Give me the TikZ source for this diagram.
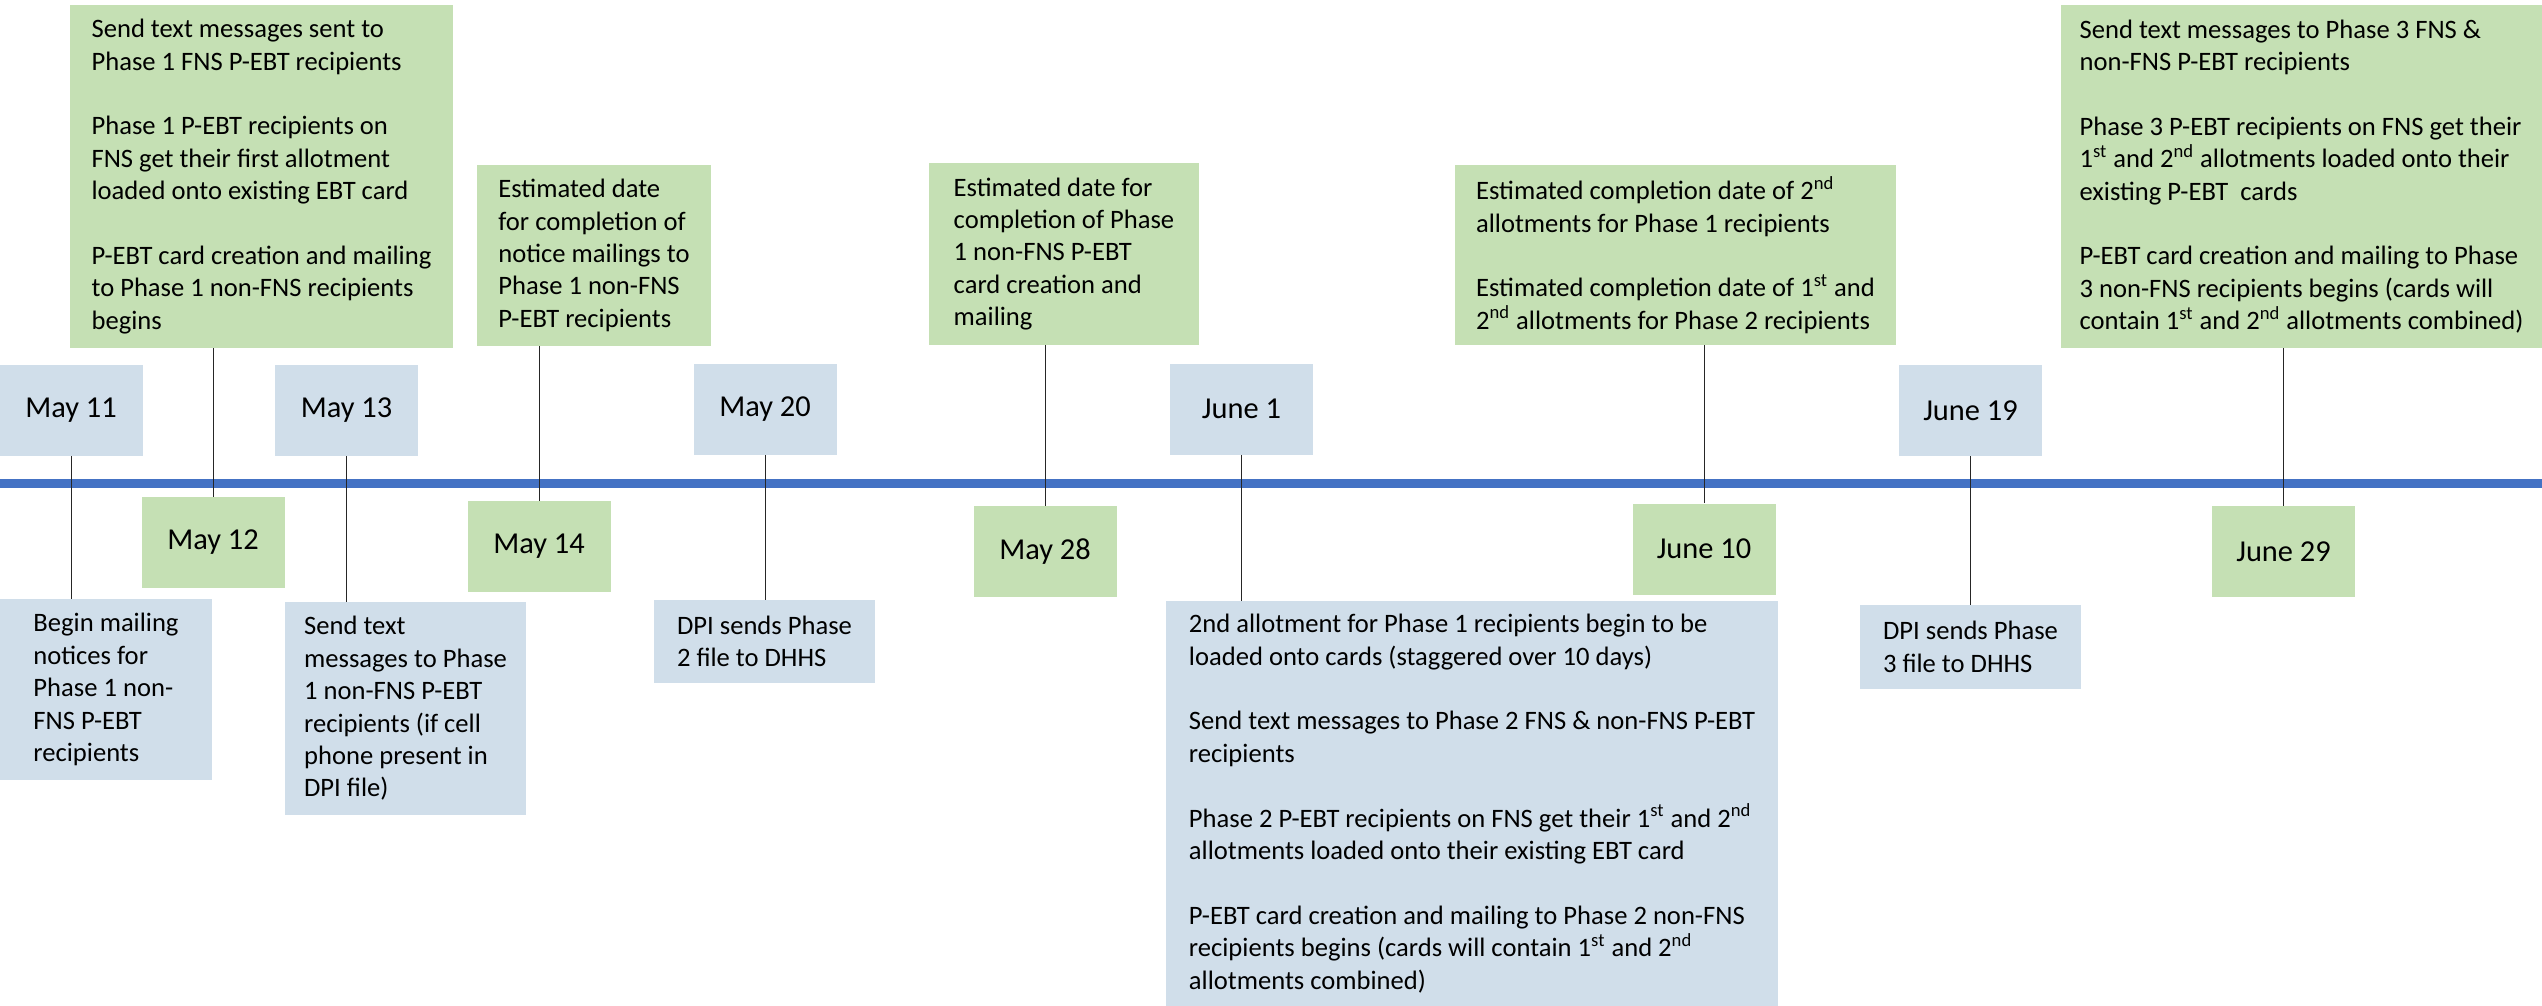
\documentclass[tikz,border=0pt]{standalone}
\usepackage{fontspec}
\setmainfont{Carlito}
\usepackage{xcolor}
\usepackage{tikz}
\usetikzlibrary{positioning}
\definecolor{boxgreen}{HTML}{C5E0B4}
\definecolor{boxblue}{HTML}{D0DEEA}
\definecolor{axisblue}{HTML}{4472C4}
\tikzset{
  event box/.style={
    fill=#1,
    inner sep=0pt,
    align=left,
    font=\fontsize{13.3}{16.2}\selectfont,
  },
  box size/.style 2 args={
    minimum width={#1*0.5pt},
    minimum height={#2*0.5pt},
  },
  date box/.style={
    fill=#1,
    inner sep=0pt,
    minimum width=71.5pt,
    minimum height=45.5pt,
    font=\fontsize{15.2}{18}\selectfont,
  },
  stem/.style={
    draw=black!85,
    line width=0.5pt,
  }
}
\newcommand{\gap}{\\[16.2pt]}
\newcommand{\st}{\textsuperscript{st}}
\newcommand{\nd}{\textsuperscript{nd}}

\begin{document}
\begin{tikzpicture}[x=0.5pt, y=-0.5pt]
    \useasboundingbox (0,0) rectangle (2542,1006);
    \coordinate (axis west) at (0,483.5);
    \coordinate (axis east) at (2542,483.5);
    \draw [axisblue, line width=4.5pt] (axis west) -- (axis east);

    \node [event box=boxgreen, box size={383}{343}] (may12txt) at (261.5,176.5)
      {Send text messages sent to\\Phase 1 FNS P-EBT recipients\gap
       Phase 1 P-EBT recipients on\\FNS get their first allotment\\loaded onto existing EBT card\gap
       P-EBT card creation and mailing\\to Phase 1 non-FNS recipients\\begins};
    \node [event box=boxgreen, box size={234}{181}] (may14txt) at (594,255.5)
      {Estimated date\\for completion of\\notice mailings to\\Phase 1 non-FNS\\P-EBT recipients};
    \node [event box=boxgreen, box size={270}{182}] (may28txt) at (1064,254)
      {Estimated date for\\completion of Phase\\1 non-FNS P-EBT\\card creation and\\mailing};
    \node [event box=boxgreen, box size={441}{180}] (jun10txt) at (1675.5,255)
      {Estimated completion date of 2\nd\\allotments for Phase 1 recipients\gap
       Estimated completion date of 1\st{} and\\2\nd{} allotments for Phase 2 recipients};
    \node [event box=boxgreen, box size={481}{343}] (jun29txt) at (2301.5,176.5)
      {Send text messages to Phase 3 FNS \&\\non-FNS P-EBT recipients\gap
       Phase 3 P-EBT recipients on FNS get their\\1\st{} and 2\nd{} allotments loaded onto their\\existing P-EBT\ \ cards\gap
       P-EBT card creation and mailing to Phase\\3 non-FNS recipients begins (cards will\\contain 1\st{} and 2\nd{} allotments combined)};

    \node [event box=boxblue, box size={212}{181}] (may11txt) at (106,689.5)
      {Begin mailing\\notices for\\Phase 1 non-\\FNS P-EBT\\recipients};
    \node [event box=boxblue, box size={241}{213}] (may13txt) at (405.5,708.5)
      {Send text\\messages to Phase\\1 non-FNS P-EBT\\recipients (if cell\\phone present in\\DPI file)};
    \node [event box=boxblue, box size={221}{83}] (may20txt) at (764.5,641.5)
      {DPI sends Phase\\2 file to DHHS};
    \node [event box=boxblue, box size={612}{405}] (jun01txt) at (1472,803.5)
      {2nd allotment for Phase 1 recipients begin to be\\loaded onto cards (staggered over 10 days)\gap
       Send text messages to Phase 2 FNS \& non-FNS P-EBT\\recipients\gap
       Phase 2 P-EBT recipients on FNS get their 1\st{} and 2\nd\\allotments loaded onto their existing EBT card\gap
       P-EBT card creation and mailing to Phase 2 non-FNS\\recipients begins (cards will contain 1\st{} and 2\nd\\allotments combined)};
    \node [event box=boxblue, box size={221}{84}] (jun19txt) at (1970.5,647)
      {DPI sends Phase\\3 file to DHHS};

    \node [date box=boxblue] (may11) at (71,410.5) {May 11};
    \node [date box=boxblue] (may13) at (346.5,410.5) {May 13};
    \node [date box=boxblue] (may20) at (765,409.5) {May 20};
    \node [date box=boxblue] (jun01) at (1241.5,409) {June 1};
    \node [date box=boxblue] (jun19) at (1970.5,410.5) {June 19};

    \node [date box=boxgreen] (may12) at (213,542.5) {May 12};
    \node [date box=boxgreen] (may14) at (539,546.5) {May 14};
    \node [date box=boxgreen] (may28) at (1045,551.5) {May 28};
    \node [date box=boxgreen] (jun10) at (1704,549) {June 10};
    \node [date box=boxgreen] (jun29) at (2283.5,551.5) {June 29};

    \draw [stem] (may11.south) -- (may11.south |- may11txt.north);
    \draw [stem] (may13.south) -- (may13.south |- may13txt.north);
    \draw [stem] (may20.south) -- (may20.south |- may20txt.north);
    \draw [stem] (jun01.south) -- (jun01.south |- jun01txt.north);
    \draw [stem] (jun19.south) -- (jun19.south |- jun19txt.north);
    \draw [stem] (may12.north) -- (may12.north |- may12txt.south);
    \draw [stem] (may14.north) -- (may14.north |- may14txt.south);
    \draw [stem] (may28.north) -- (may28.north |- may28txt.south);
    \draw [stem] (jun10.north) -- (jun10.north |- jun10txt.south);
    \draw [stem] (jun29.north) -- (jun29.north |- jun29txt.south);
\end{tikzpicture}
\end{document}
